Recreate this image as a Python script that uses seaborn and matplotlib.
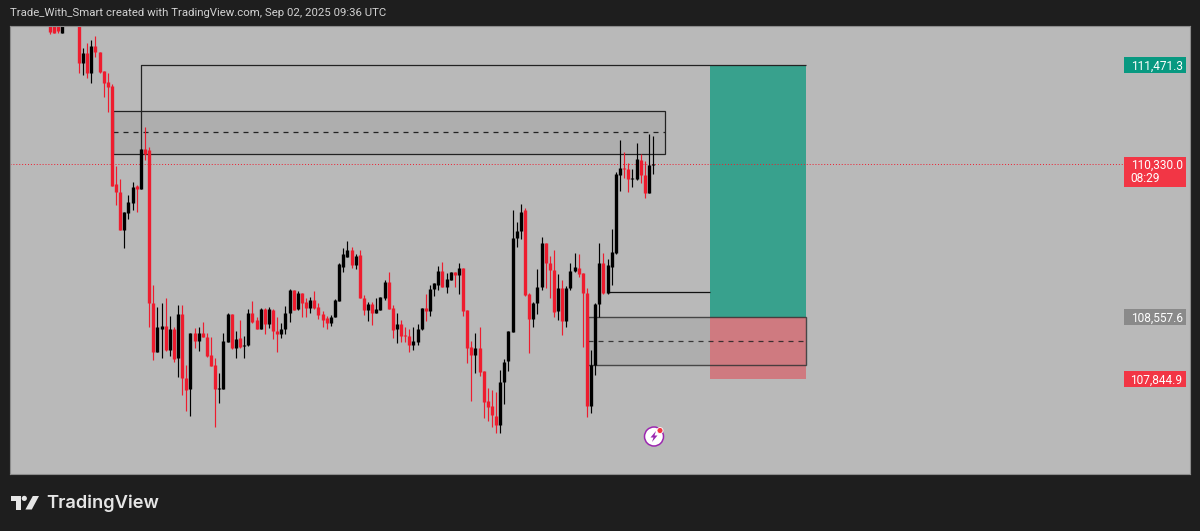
import matplotlib
matplotlib.use('Agg')
import matplotlib.pyplot as plt
import pandas as pd
import seaborn as sns
from matplotlib.patches import Circle, Polygon, Rectangle

# candles, one value per bar
opens = [111991,111991,111991,111841,112000,112090,112060,111991,111494,111610,
         111379,111691,111621,111402,111275,111229,110097,110005,109566,109762,
         109877,110074,110039,110501,110490,108722,108157,108422,108457,108180,
         108422,108087,108596,107856,107730,108376,108284,108376,108330,108122,
         108007,107730,107730,108272,108596,108203,108318,108226,108238,108608,
         108526,108422,108653,108480,108642,108399,108365,108422,108608,108873,
         108653,108838,108734,108665,108757,108676,108596,108549,108492,108561,
         108745,109138,109254,109335,109161,109277,108780,108642,108711,108608,
         108642,108780,108965,108665,108422,108480,108353,108341,108238,108272,
         108422,108665,108630,108884,108930,109092,108907,108988,109081,109046,
         109127,108642,108214,108122,108203,107937,107590,107533,107418,107314,
         107810,108052,108388,109473,109554,109797,108827,108538,108722,108907,
         109415,109184,109104,108630,108895,108515,108895,109092,109127,109069,
         108838,107533,108007,108711,109184,108838,109138,109300,110201,110282,
         110270,110155,110155,110374,110201,109993,110316]
highs = [111991,111991,111991,111991,112120,112160,112110,111991,111668,111725,
         111760,111806,111621,111402,111379,111252,110305,110155,109774,109970,
         110120,110085,110501,110755,110524,108930,108676,108722,108780,108572,
         108445,108699,108699,108007,108376,108434,108445,108503,108376,108330,
         108087,107914,108376,108608,108596,108399,108526,108341,108653,108745,
         108561,108665,108665,108676,108653,108561,108492,108688,108884,108873,
         108861,108838,108780,108792,108861,108722,108630,108572,108584,108769,
         109184,109358,109439,109370,109288,109335,108815,108734,108734,108780,
         108792,108988,109081,108699,108608,108526,108445,108422,108445,108480,
         108665,108827,108930,108953,109150,109196,109069,109081,109081,109184,
         109127,108642,108284,108376,108445,107937,107741,107718,107695,107949,
         108076,108399,109797,109658,109866,109820,108838,108734,109115,109485,
         109415,109265,109335,109058,108988,108919,109184,109300,109288,109069,
         108895,108180,108722,109415,109300,109231,109577,110235,110605,110466,
         110339,110270,110570,110443,110362,110674,110651]
lows = [111829,111841,111841,111841,111960,112040,111990,111379,111356,111321,
        111263,111564,111379,111102,110928,110074,109854,109566,109358,109693,
        109797,109774,110039,110374,108445,108064,108157,108087,108169,108110,
        108041,107868,107660,107475,107418,108203,108169,108330,108099,107995,
        107291,107567,107730,108272,108191,108087,108203,108087,108226,108492,
        108422,108422,108365,108434,108307,108157,108318,108365,108503,108642,
        108642,108561,108561,108608,108653,108538,108445,108422,108457,108561,
        108745,109081,109254,109127,109115,108780,108584,108515,108468,108608,
        108642,108757,108653,108318,108261,108272,108272,108157,108180,108238,
        108411,108515,108572,108803,108873,108907,108838,108988,108907,108827,
        108572,108029,107590,107914,107879,107394,107360,107291,107221,107221,
        107556,107937,108388,109370,109462,108803,108145,108445,108596,108873,
        108895,108780,108561,108526,108353,108445,108873,109081,109023,108214,
        107406,107452,107891,108561,108827,108827,108930,109288,110016,110166,
        110004,110062,110143,110108,109935,109993,110212]
closes = [111852,111841,111864,111991,112090,112060,112020,111494,111610,111379,
          111691,111621,111390,111263,111217,110074,110005,109566,109774,109889,
          110062,110039,110501,110443,108722,108157,108445,108457,108180,108422,
          108076,108596,107856,107718,108376,108284,108376,108330,108110,107995,
          107730,107741,108284,108596,108203,108307,108214,108238,108608,108503,
          108422,108653,108480,108653,108399,108365,108422,108608,108873,108642,
          108838,108722,108665,108757,108665,108584,108526,108492,108561,108757,
          109173,109288,109335,109161,109265,108780,108642,108711,108608,108653,
          108792,108965,108653,108411,108480,108341,108341,108238,108284,108422,
          108665,108630,108884,108953,109092,108907,108999,109081,109046,109127,
          108630,108203,108122,108203,107925,107579,107521,107429,107314,107810,
          108041,108399,109473,109554,109774,108815,108538,108722,108907,109415,
          109184,109104,108619,108895,108515,108895,109092,109138,109058,108838,
          107533,108007,108711,109184,108838,109161,109312,110212,110282,110270,
          110155,110166,110386,110201,109993,110316,110330]

tp_price = 111471.3
last_price = 110330.0
entry_price = 108557.6
sl_price = 107844.9
ob_top, ob_mid, ob_bottom = 110940, 110698, 110443
demand_mid, demand_bottom = 108284, 108006
swing_price = 108849
countdown = '08:29'
title = 'Trade_With_Smart created with TradingView.com, Sep 02, 2025 09:36 UTC'

BG = '#1e1e1e'
PANE = '#b9b9b9'
RED = '#ee1c2e'

sns.set_theme(style='white')
plt.rcParams['font.family'] = ['Roboto', 'DejaVu Sans']
plt.rcParams['lines.solid_capstyle'] = 'butt'

df = pd.DataFrame({'i': range(len(opens)), 'o': opens, 'h': highs, 'l': lows, 'c': closes})
df['side'] = ['up' if c >= o else 'down' for o, c in zip(opens, closes)]
wicks = df.melt(id_vars=['i', 'side'], value_vars=['h', 'l'], value_name='price')
bodies = df.melt(id_vars=['i', 'side'], value_vars=['o', 'c'], value_name='price')
palette = {'up': '#000000', 'down': RED}

fig = plt.figure(figsize=(12, 5.31), dpi=100, facecolor=BG)
ax = fig.add_axes([10 / 1200, 57 / 531, 1180 / 1200, 448 / 531], facecolor=PANE)
ax.set_xlim(-9.69, 276)
ax.set_ylim(106747, 111922)

# zones under the candles
ax.add_patch(Rectangle((15.25, ob_bottom), 133.65, ob_top - ob_bottom, fc='#aeaeae', ec='#222222', lw=0.9, zorder=1))
ax.add_patch(Rectangle((130.3, demand_bottom), 52.7, entry_price - demand_bottom, fc='#aeaeae', ec='none', zorder=1))
ax.add_patch(Rectangle((159.8, entry_price), 23.2, tp_price - entry_price, fc='#38a18d', ec='none', zorder=1.1))
ax.add_patch(Rectangle((159.8, sl_price), 23.2, entry_price - sl_price, fc='#cf7a80', ec='none', zorder=1.1))
ax.add_patch(Rectangle((130.3, demand_bottom), 52.7, entry_price - demand_bottom, fc='none', ec='#333333', alpha=0.85, lw=1.0, zorder=1.2))
ax.plot([15.25, 148.9], [ob_mid, ob_mid], color='#222222', lw=0.9, ls=(0, (4, 4)), zorder=1.3)
ax.plot([130.3, 183], [demand_mid, demand_mid], color='#222222', alpha=0.85, lw=0.9, ls=(0, (4, 4)), zorder=1.3)
ax.plot([22, 22, 183], [ob_bottom, tp_price, tp_price], color='#222222', lw=0.9, zorder=1.3)
ax.plot([134.9, 159.8], [swing_price, swing_price], color='#111111', lw=0.9, zorder=1.3)
ax.plot([-9.69, 260], [last_price, last_price], color=RED, lw=0.7, ls=(0, (1, 2)), zorder=1.3)

sns.lineplot(data=wicks, x='i', y='price', hue='side', units='i', estimator=None, sort=False,
             palette=palette, linewidth=0.85, legend=False, ax=ax, zorder=2)
sns.lineplot(data=bodies, x='i', y='price', hue='side', units='i', estimator=None, sort=False,
             palette=palette, linewidth=2.4, legend=False, ax=ax, zorder=2.1)

# price tags on the right
tags = [(tp_price, '#089981'), (entry_price, '#8a8a8a'), (sl_price, '#f23645')]
for price, colour in tags:
    ax.add_patch(Rectangle((260, price - 92), 15, 184, fc=colour, ec='none', zorder=3))
    ax.text(274.2, price, f'{price:,.1f}', color='white', fontsize=8.6, ha='right', va='center_baseline', zorder=4)
ax.add_patch(Rectangle((260, last_price - 265), 15, 346, fc='#f23645', ec='none', zorder=3))
ax.text(274.2, last_price, f'{last_price:,.1f}', color='white', fontsize=8.6, ha='right', va='center_baseline', zorder=4)
ax.text(261.5, last_price - 150, countdown, color='white', fontsize=8.6, ha='left', va='center_baseline', zorder=4)

ax.set_xticks([])
ax.set_yticks([])
ax.set_xlabel('')
ax.set_ylabel('')
for spine in ax.spines.values():
    spine.set_color('#8c8c8c')
    spine.set_linewidth(0.8)

# overlay in pixel space for title, logo and the small flash icon
top = fig.add_axes([0, 0, 1, 1], facecolor='none')
top.set_xlim(0, 1200)
top.set_ylim(531, 0)
top.axis('off')
top.text(10, 13.5, title, color='#d2d2d2', fontsize=8.2, ha='left', va='center')

logo = '#e6e6e6'
top.add_patch(Polygon([(11, 496), (21, 496), (21, 509.5), (16, 509.5), (16, 500.8), (11, 500.8)], fc=logo, ec='none'))
top.add_patch(Circle((24.3, 498.4), 2.6, fc=logo, ec='none'))
top.add_patch(Polygon([(32.8, 496), (39, 496), (31.8, 509.5), (25.4, 509.5)], fc=logo, ec='none'))
top.text(46, 503, 'TradingView', color=logo, fontsize=13.2, family='Inter', weight='semibold', ha='left', va='center')

top.add_patch(Circle((654, 436.5), 9.5, fc='white', ec='#9c27b0', lw=1.1))
top.add_patch(Polygon([(656, 431), (650.5, 437.5), (653.5, 437.5), (652, 442), (657.5, 435.5), (654.5, 435.5)], fc='#9c27b0', ec='none'))
top.add_patch(Circle((660, 430.5), 3, fc='#f23645', ec='white', lw=0.6))

plt.savefig('out.png', dpi=100, facecolor=BG)
